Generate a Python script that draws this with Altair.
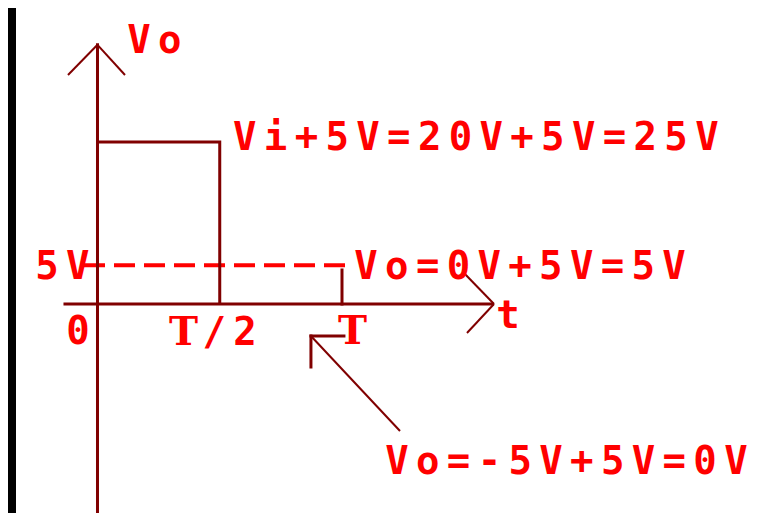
import altair as alt
import pandas as pd

# ---- diagram data (t in units of the period T, v in volts) ----
wave_t = [0.0, 0.5, 0.5]
wave_v = [25.0, 25.0, 0.0]

# thick segments: y axis, x axis, tick at T, pointer corner (horizontal, vertical)
thick_t1 = [0.0, -0.133, 1.0, 0.873, 0.873]
thick_v1 = [-32.25, 0.0, 0.0, -4.94, -4.94]
thick_t2 = [0.0, 1.615, 1.0, 1.008, 0.873]
thick_v2 = [40.0, 0.0, 5.25, -4.94, -9.72]

# thin segments: arrow heads and pointer shaft
thin_t1 = [0.0, 0.0, 1.6217, 1.6217, 0.873]
thin_v1 = [40.0, 40.0, 0.0, 0.0, -4.94]
thin_t2 = [-0.1207, 0.1125, 1.4949, 1.5112, 1.2372]
thin_v2 = [35.34, 35.34, 4.94, -4.475, -19.6]

# dashed 5V guide
guide_t1 = [-0.0552]
guide_t2 = [1.0327]
guide_v = [5.97]

# labels
label_text = ["Vo", "Vi+5V=20V+5V=25V", "5V", "Vo=0V+5V=5V", "0", "T/2", "T", "t",
              "Vo=-5V+5V=0V"]
label_t = [0.1697, 0.6024, -0.2065, 1.0982, -0.0798, 0.3517, 1.0429, 1.679, 1.2249]
label_v = [38.66, 23.69, 3.8, 3.8, -6.17, -6.33, -6.17, -3.7, -26.23]

PITCH = 0.126  # character advance in T units

LINE = "#800000"
TEXT = "#ff0000"

wave_df = pd.DataFrame({"t": wave_t, "v": wave_v, "o": range(len(wave_t))})
thick_df = pd.DataFrame({"t": thick_t1, "v": thick_v1, "t2": thick_t2, "v2": thick_v2})
thin_df = pd.DataFrame({"t": thin_t1, "v": thin_v1, "t2": thin_t2, "v2": thin_v2})
guide_df = pd.DataFrame({"t": guide_t1, "t2": guide_t2, "v": guide_v})

rows = []
for s, t0, v0 in zip(label_text, label_t, label_v):
    for i, ch in enumerate(s):
        rows.append({"ch": ch, "t0": t0, "i": i, "v": v0})
chars_df = pd.DataFrame(rows)

xs = alt.Scale(domain=[-0.3333, 2.7137], nice=False, zero=False)
ys = alt.Scale(domain=[-32.25, 45.68], nice=False, zero=False)

X = lambda f: alt.X(f, type="quantitative", scale=xs, axis=None)
Y = lambda f: alt.Y(f, type="quantitative", scale=ys, axis=None)

wave = alt.Chart(wave_df).mark_line(color=LINE, strokeWidth=3, strokeJoin="miter").encode(
    x=X("t"), y=Y("v"), order="o:Q")

thick = alt.Chart(thick_df).mark_rule(color=LINE, strokeWidth=3, strokeCap="square").encode(
    x=X("t"), y=Y("v"), x2="t2", y2="v2")

thin = alt.Chart(thin_df).mark_rule(color=LINE, strokeWidth=2).encode(
    x=X("t"), y=Y("v"), x2="t2", y2="v2")

guide = alt.Chart(guide_df).mark_rule(color=TEXT, strokeWidth=4, strokeDash=[21, 9]).encode(
    x=X("t"), x2="t2", y=Y("v"))

base_text = alt.Chart(chars_df).transform_calculate(
    tx=alt.datum.t0 + alt.datum.i * PITCH
)

text_mono = base_text.transform_filter(alt.datum.ch != "T").mark_text(
    color=TEXT, font="DejaVu Sans Mono", fontWeight="bold", fontSize=39,
    align="center", baseline="alphabetic"
).encode(x=X("tx"), y=Y("v"), text="ch:N")

text_serif = base_text.transform_filter(alt.datum.ch == "T").mark_text(
    color=TEXT, font="DejaVu Serif", fontWeight="bold", fontSize=39,
    align="center", baseline="alphabetic"
).encode(x=X("tx"), y=Y("v"), text="ch:N")

chart = alt.layer(guide, wave, thick, thin, text_mono, text_serif).properties(
    width=745, height=505,
    padding={"left": 8, "top": 0, "right": 0, "bottom": 0},
    autosize=alt.AutoSizeParams(type="none"),
    background="black",
).configure_view(fill="white", strokeWidth=0)

chart.save("out.html", embed_options={"renderer": "svg", "actions": False})
